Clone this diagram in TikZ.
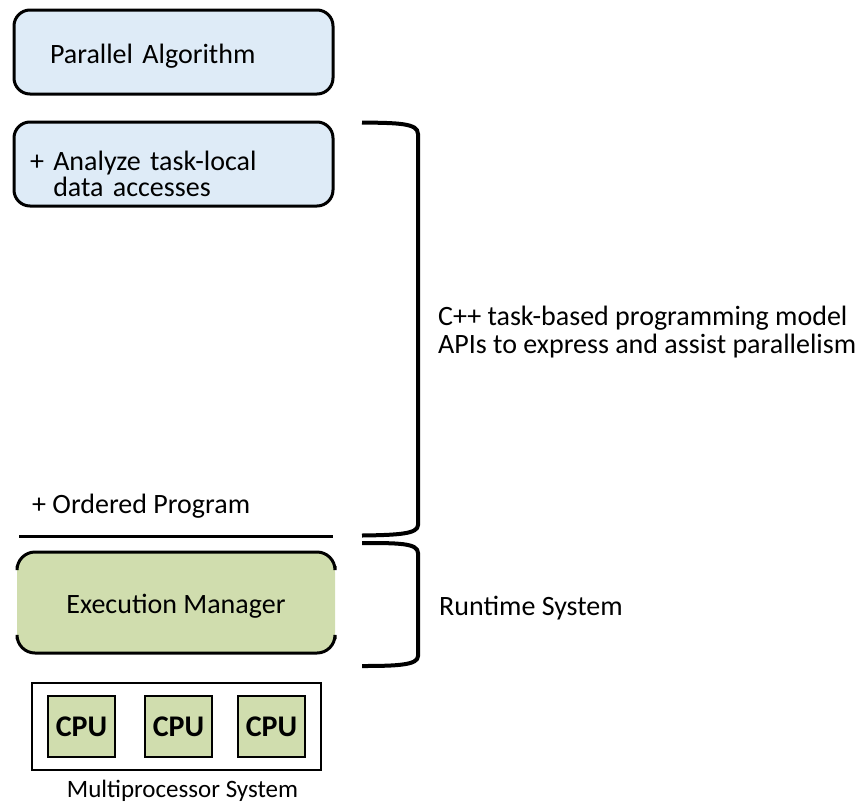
\documentclass[tikz,border=0pt]{standalone}
\usepackage{fontspec}
\setmainfont{Carlito}
\definecolor{algoblue}{RGB}{222,235,247}
\definecolor{rtgreen}{RGB}{208,221,174}
\begin{document}
\begin{tikzpicture}[x=1pt, y=-1pt,
    every node/.style={font=\fontsize{28}{26.5}\selectfont},
    bluebox/.style={draw, line width=3pt, fill=algoblue, rounded corners=16pt,
        minimum height=84pt, align=left, text depth=0pt},
    cpubox/.style={draw, line width=2pt, fill=rtgreen, minimum width=67pt,
        minimum height=61pt, font=\fontsize{30}{30}\selectfont\bfseries},
    brace/.style={line width=4pt}]
    \useasboundingbox (0, 0) rectangle (862, 804);
    \node [bluebox, inner xsep=36pt, text width=247pt, text height=22pt] (algo) at (173.5, 52) {Parallel Algorithm};
    \node [bluebox, inner xsep=16pt, text width=287pt, text height=12pt] (analyze) at (173.5, 164)
        {+ Analyze task-local\\\phantom{+ }data accesses};
    \node [anchor=base west, inner sep=0pt] (ordered) at (32, 513) {+ Ordered Program};
    \coordinate (sepl) at (19, 536);
    \coordinate (sepr) at (333, 536);
    \draw [line width=3pt] (sepl) -- (sepr);
    \fill [rtgreen, rounded corners=20pt] (17, 552) rectangle (335, 653);
    \draw [line width=3pt, rounded corners=18pt] (17, 566) -- (17, 552) -- (335, 552) -- (335, 566);
    \draw [line width=3pt, rounded corners=18pt] (17, 639) -- (17, 653) -- (335, 653) -- (335, 639);
    \node [anchor=base, inner sep=0pt] (exec) at (176, 613) {Execution Manager};
    \node [draw, line width=2pt, minimum width=289pt, minimum height=87pt] (multi) at (176.5, 726.5) {};
    \node [cpubox] (cpu1) at (81.5, 726.5) {CPU};
    \node [cpubox] (cpu2) at (178.5, 726.5) {CPU};
    \node [cpubox] (cpu3) at (271.5, 726.5) {CPU};
    \node [anchor=base, inner sep=0pt, font=\fontsize{25}{25}\selectfont] (mps) at (182.5, 797) {Multiprocessor System};
    \coordinate (b1t) at (362, 122.5);
    \coordinate (b1b) at (362, 535.5);
    \coordinate (b2t) at (362, 543);
    \coordinate (b2b) at (362, 666);
    \draw [brace] (b1t) .. controls (398, 123) and (418, 123) .. (418, 134) -- (418, 525)
        .. controls (418, 534) and (398, 535) .. (b1b);
    \draw [brace] (b2t) .. controls (398, 543) and (418, 543) .. (418, 553) -- (418, 656)
        .. controls (418, 665) and (398, 666) .. (b2b);
    \node [anchor=base west, inner sep=0pt] (model) at (438, 325)
        {C++ task-based programming model};
    \node [anchor=base west, inner sep=0pt] (apis) at (438, 353)
        {APIs to express and assist parallelism};
    \node [anchor=base west, inner sep=0pt] (runtime) at (439, 615) {Runtime System};
\end{tikzpicture}
\end{document}
